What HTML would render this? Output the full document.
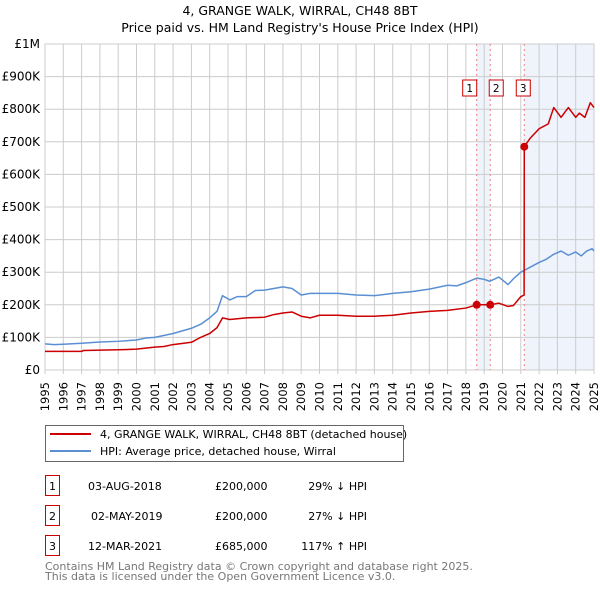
<!DOCTYPE html>
<html><head><meta charset="utf-8"><style>
body{margin:0;background:#fff;font-family:"DejaVu Sans","Liberation Sans",sans-serif;}
svg{display:block}
</style></head><body>
<svg id="c" width="600" height="590" xmlns="http://www.w3.org/2000/svg" font-family="DejaVu Sans, Liberation Sans, sans-serif">
<text x="300" y="15" text-anchor="middle" font-size="12.5">4, GRANGE WALK, WIRRAL, CH48 8BT</text>
<text x="300" y="32" text-anchor="middle" font-size="12.5">Price paid vs. HM Land Registry's House Price Index (HPI)</text>
<g id="plot"></g>
<g>
<rect x="45.5" y="425.5" width="358" height="36" fill="#fff" stroke="#666"/>
<line x1="50" y1="434" x2="91" y2="434" stroke="#cc0000" stroke-width="2"/>
<text x="100" y="438" font-size="11">4, GRANGE WALK, WIRRAL, CH48 8BT (detached house)</text>
<line x1="50" y1="451" x2="91" y2="451" stroke="#5b8fd3" stroke-width="2"/>
<text x="100" y="455" font-size="11">HPI: Average price, detached house, Wirral</text>
</g>
<g font-size="11">
<rect x="45.5" y="475.5" width="14" height="20" fill="#fff" stroke="#cc0000"/><text x="52.5" y="490" text-anchor="middle">1</text>
<text x="88" y="490">03-AUG-2018</text><text x="215" y="490">£200,000</text><text x="367" y="490" text-anchor="end">29% ↓ HPI</text>
<rect x="45.5" y="505.5" width="14" height="20" fill="#fff" stroke="#cc0000"/><text x="52.5" y="520" text-anchor="middle">2</text>
<text x="91" y="520">02-MAY-2019</text><text x="215" y="520">£200,000</text><text x="367" y="520" text-anchor="end">27% ↓ HPI</text>
<rect x="45.5" y="535.5" width="14" height="20" fill="#fff" stroke="#cc0000"/><text x="52.5" y="550" text-anchor="middle">3</text>
<text x="88" y="550">12-MAR-2021</text><text x="215" y="550">£685,000</text><text x="367" y="550" text-anchor="end">117% ↑ HPI</text>
</g>
<text x="45" y="570" font-size="11" fill="#777">Contains HM Land Registry data © Crown copyright and database right 2025.</text>
<text x="45" y="580" font-size="11" fill="#777">This data is licensed under the Open Government Licence v3.0.</text>
</svg>
<script>
const yearTicks=[1995,1996,1997,1998,1999,2000,2001,2002,2003,2004,2005,2006,2007,2008,2009,2010,2011,2012,2013,2014,2015,2016,2017,2018,2019,2020,2021,2022,2023,2024,2025];
const valueTicks=[0,100000,200000,300000,400000,500000,600000,700000,800000,900000,1000000];
const valueLabels=["£0","£100K","£200K","£300K","£400K","£500K","£600K","£700K","£800K","£900K","£1M"];
const hpiDates=[1995,1995.5,1996,1997,1998,1999,2000,2000.5,2001,2002,2003,2003.5,2004,2004.4,2004.7,2005.1,2005.5,2006,2006.5,2007,2007.5,2008,2008.5,2009,2009.5,2010,2011,2012,2013,2014,2015,2016,2017,2017.5,2018,2018.6,2019,2019.3,2019.8,2020.3,2020.6,2021,2021.5,2022,2022.4,2022.8,2023.2,2023.6,2024,2024.3,2024.6,2024.9,2025];
const hpiValues=[80,78,79,82,86,88,92,98,100,112,128,140,160,180,228,215,225,225,244,245,250,255,250,230,235,235,235,230,228,235,240,248,260,258,268,282,278,272,285,262,280,300,315,330,340,355,365,352,362,350,365,372,365];
const saleDates=[2018.59,2019.33,2021.19];
const saleValues=[200,200,685];
const ppDates=[1995,1997,1997.1,1999,2000,2001,2001.5,2002,2003,2003.5,2004,2004.4,2004.7,2005.1,2006,2007,2007.5,2008,2008.5,2009,2009.5,2010,2011,2012,2013,2014,2015,2016,2017,2018,2018.59,2019.33,2019.8,2020.3,2020.6,2021,2021.18,2021.19,2021.5,2022,2022.5,2022.8,2023.2,2023.6,2024,2024.2,2024.5,2024.8,2025];
const ppValues=[57,57,60,62,64,70,72,78,85,100,112,130,160,155,160,162,170,175,178,165,160,168,168,165,165,168,175,180,183,190,200,200,205,195,198,225,230,685,710,740,755,805,775,805,775,788,775,820,805];
const X0=45,X1=594,Y0=370,Y1=44;
const xs=y=>X0+(y-1995)/(2025-1995)*(X1-X0);
const ys=v=>Y0-v/1000000*(Y0-Y1);
const NS="http://www.w3.org/2000/svg";
const g=document.getElementById('plot');
function mk(tag,attrs,parent){const e=document.createElementNS(NS,tag);for(const k in attrs)e.setAttribute(k,attrs[k]);(parent||g).appendChild(e);return e;}
// shading
let s=mk('rect',{x:xs(saleDates[0]),y:Y1,width:xs(saleDates[1])-xs(saleDates[0]),height:Y0-Y1,fill:'#eef3fc'});


s=mk('rect',{x:xs(saleDates[2]),y:Y1,width:X1-xs(saleDates[2]),height:Y0-Y1,fill:'#eef3fc'});


// grid
yearTicks.forEach(yr=>{const x=xs(yr);
const l=mk('line',{x1:x,x2:x,y1:Y1,y2:Y0+4,stroke:'#ccc'});


const t=mk('text',{x:x,y:Y0+12,'font-size':11.5,'text-anchor':'end',transform:`rotate(-90 ${x+4} ${Y0+12})`});


t.setAttribute('x',x+4);t.setAttribute('y',Y0+12);t.setAttribute('dy','0');
t.textContent=yr;});
valueTicks.forEach((v,i)=>{const y=ys(v);
const l=mk('line',{x1:X0,x2:X1,y1:y,y2:y,stroke:'#ccc'});


const t=mk('text',{x:X0-5,y:y+4,'font-size':12,'text-anchor':'end'});


t.textContent=valueLabels[i];});
const fr=mk('rect',{x:X0,y:Y1,width:X1-X0,height:Y0-Y1,fill:'none',stroke:'#ccc'});


// sale vlines and markers
saleDates.forEach((d,i)=>{const x=xs(d);
const l=mk('line',{x1:x,x2:x,y1:Y1,y2:Y0,stroke:'#f08080','stroke-dasharray':'2,3'});


const bx=i==2?x-8:(i==0?x-14:x-1);
const r=mk('rect',{x:bx,y:80,width:14,height:16,fill:'#fff',stroke:'#cc0000'});


const t=mk('text',{x:bx+7,y:92,'font-size':10.5,'text-anchor':'middle'});


t.textContent=i+1;});
function line(dates,vals,color,name){const p=mk('polyline',{points:dates.map((d,i)=>xs(d)+','+ys(vals[i]*1000)).join(' '),fill:'none',stroke:color,'stroke-width':1.5,'stroke-linejoin':'round'});

}
line(hpiDates,hpiValues,'#5b8fd3','hpi-line');
line(ppDates,ppValues,'#cc0000','price-paid-line');
saleDates.forEach((d,i)=>{const c=mk('circle',{cx:xs(d),cy:ys(saleValues[i]*1000),r:4,fill:'#cc0000'});

});
</script>
</body></html>
